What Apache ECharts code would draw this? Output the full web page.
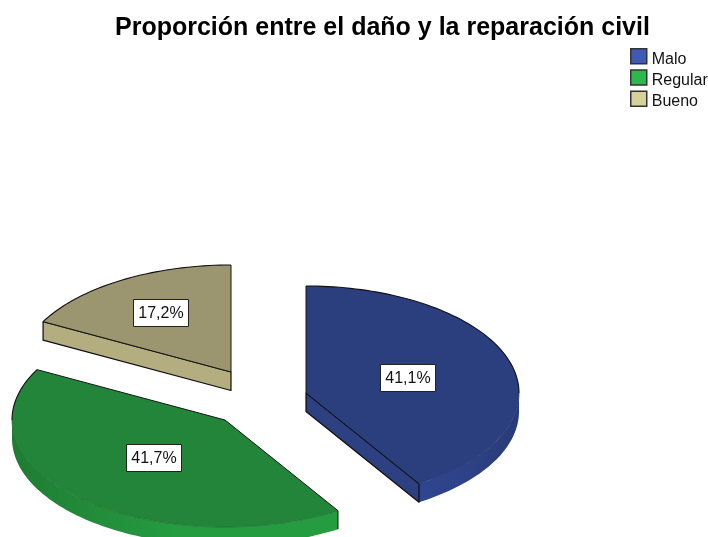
<!DOCTYPE html>
<html>
<head>
<meta charset="utf-8">
<style>html,body{margin:0;padding:0;background:#fff}#c{width:708px;height:537px}</style>
<script src="https://cdn.jsdelivr.net/npm/echarts@6/dist/echarts.min.js"></script>
</head>
<body>
<div id="c"></div>
<script>
var categories = ['Malo', 'Regular', 'Bueno'];
var percentages = [41.1, 41.7, 17.2];
var percentLabels = ['41,1%', '41,7%', '17,2%'];

// layout and styling (separate from the data)
var apexes = [[306, 393], [225, 420], [231, 372]];
var labelRadius = [0.5, 0.49, 0.64];
var RX = 213, RY = 107, DEPTH = 18.5;
var legendColors = ['#3f5ab4', '#2db84e', '#d6d09a'];
var topColors = ['#2b3f7e', '#23853a', '#9b9570'];
var wallStops = [
  ['#2f4590', '#2d4186', '#293b76'],
  ['#1f7c33', '#259c40', '#259c40'],
  ['#b3ad80', '#b3ad80', '#b3ad80']
];
var radialColors = ['#2c4082', '#23853a', '#b3ad80'];
var rimColors = ['#22336c', '#1a6a2e', '#111111'];

var total = percentages.reduce(function (a, b) { return a + b; }, 0);
var starts = [];
percentages.reduce(function (acc, v, i) { starts[i] = acc; return acc + v; }, 0);

function pt(c, deg, r, dz) {
  var a = deg * Math.PI / 180;
  return [c[0] + r * RX * Math.sin(a), c[1] - r * RY * Math.cos(a) + (dz || 0)];
}
function arc(c, a0, a1, dz) {
  var n = Math.max(2, Math.ceil(Math.abs(a1 - a0) / 1.5)), out = [];
  for (var i = 0; i <= n; i++) out.push(pt(c, a0 + (a1 - a0) * i / n, 1, dz));
  return out;
}
function line(points, color, w) {
  return { type: 'polyline', shape: { points: points }, style: { fill: null, stroke: color, lineWidth: w, lineJoin: 'round' } };
}
function renderSlice(i) {
  return function () {
    var c = apexes[i];
    var a0 = starts[i] / total * 360, a1 = (starts[i] + percentages[i]) / total * 360;
    var kids = [];
    // outer wall: only the front half of the rim (90..270 deg) can be seen
    var w0 = Math.max(a0, 90), w1 = Math.min(a1, 270);
    if (w1 > w0) {
      var upper = arc(c, w0, w1, 0), lower = arc(c, w1, w0, DEPTH);
      kids.push({ type: 'polygon', shape: { points: upper.concat(lower) }, style: {
        fill: new echarts.graphic.LinearGradient(0, 0, 1, 0, [
          { offset: 0, color: wallStops[i][0] },
          { offset: 0.5, color: wallStops[i][1] },
          { offset: 1, color: wallStops[i][2] }
        ]) } });
    }
    // radial face turned toward the viewer
    var faceAngle = null;
    if (a1 > 90 && a1 <= 180) faceAngle = a1;
    if (a0 > 270) faceAngle = a0;
    if (faceAngle !== null) {
      var p = pt(c, faceAngle, 1, 0), pb = pt(c, faceAngle, 1, DEPTH), cb = [c[0], c[1] + DEPTH];
      kids.push({ type: 'polygon', shape: { points: [c, p, pb, cb] }, style: { fill: radialColors[i], stroke: '#0d0d0d', lineWidth: 1.2, lineJoin: 'round' } });
    }
    // top face
    var rim = arc(c, a0, a1, 0);
    kids.push({ type: 'polygon', shape: { points: [c].concat(rim) }, style: { fill: topColors[i] } });
    // edges
    if (w1 > w0) {
      kids.push(line(arc(c, w0, w1, 0), rimColors[i], 0.7));
      if (a0 > 90) kids.push(line([pt(c, a0, 1, 0), pt(c, a0, 1, DEPTH)], '#111111', 1));
    }
    if (a0 < 90) kids.push(line(arc(c, a0, 90, 0), '#111111', 1.1));
    if (a1 > 270) kids.push(line(arc(c, Math.max(a0, 270), a1, 0), '#111111', 1.1));
    kids.push(line([pt(c, a1, 1, 0), c, pt(c, a0, 1, 0)], '#141414', 1));
    // value label
    var mid = (a0 + a1) / 2, lp = pt(c, mid, labelRadius[i], 0);
    kids.push({ type: 'rect', shape: { x: Math.round(lp[0]) - 27.5, y: Math.round(lp[1]) - 13.5, width: 55, height: 27 },
      style: { fill: '#fff', stroke: '#222', lineWidth: 1 } });
    kids.push({ type: 'text', style: { x: Math.round(lp[0]), y: Math.round(lp[1]) + 1, text: percentLabels[i], fill: '#111',
      font: '16px "Liberation Sans", Arial, sans-serif', align: 'center', verticalAlign: 'middle' } });
    return { type: 'group', children: kids };
  };
}

var chart = echarts.init(document.getElementById('c'), null, { renderer: 'canvas' });
chart.setOption({
  animation: false,
  backgroundColor: '#fff',
  title: {
    text: 'Proporción entre el daño y la reparación civil',
    left: 115, top: 16, padding: 0,
    textStyle: { fontFamily: '"Liberation Sans", Arial, sans-serif', fontSize: 25, fontWeight: 'bold', color: '#000' }
  },
  legend: {
    orient: 'vertical', left: 630, top: 48, itemWidth: 16, itemHeight: 15, itemGap: 2,
    icon: 'rect', padding: 0,
    formatter: '{a|{name}}',
    textStyle: { rich: { a: { fontFamily: '"Liberation Sans", Arial, sans-serif', fontSize: 16, color: '#111', padding: [6, 0, 0, 0] } } },
    data: categories.map(function (name, i) {
      return { name: name, itemStyle: { color: legendColors[i], borderColor: '#333', borderWidth: 1.5 } };
    })
  },
  series: categories.map(function (name, i) {
    return {
      type: 'custom', name: name, coordinateSystem: 'none', silent: true,
      itemStyle: { color: legendColors[i] },
      renderItem: renderSlice(i),
      data: [percentages[i]]
    };
  })
});
</script>
</body>
</html>
